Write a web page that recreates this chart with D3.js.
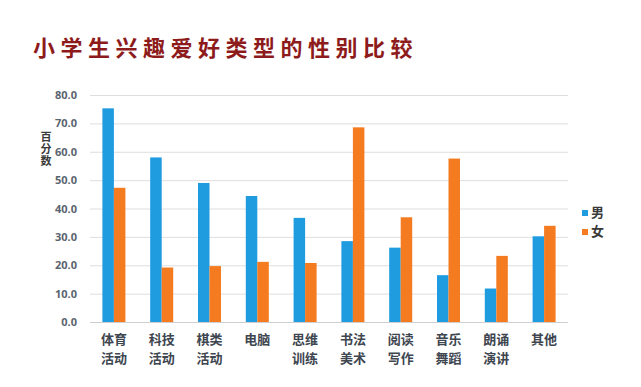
<!DOCTYPE html>
<html>
<head>
<meta charset="utf-8">
<script src="https://cdn.jsdelivr.net/npm/d3@7"></script>
<style>
  body { margin: 0; background: #fff; }
  text { font-family: "Noto Sans CJK SC", "Noto Sans", sans-serif; }
</style>
</head>
<body>
<div id="chart"></div>
<script>
var categories = [['体育', '活动'], ['科技', '活动'], ['棋类', '活动'], ['电脑'], ['思维', '训练'],
  ['书法', '美术'], ['阅读', '写作'], ['音乐', '舞蹈'], ['朗诵', '演讲'], ['其他']]
var boys = [75.3, 58.0, 49.0, 44.4, 36.7, 28.5, 26.2, 16.5, 11.8, 30.2]
var girls = [47.3, 19.2, 19.7, 21.2, 20.8, 68.6, 36.9, 57.6, 23.3, 33.9]
var seriesNames = ['男', '女']
var yTicks = [0, 10, 20, 30, 40, 50, 60, 70, 80]

var width = 641
var height = 387
var margin = { top: 95, left: 90, right: 73, bottom: 65 }

var svg = d3
  .select('#chart')
  .append('svg')
  .attr('width', width)
  .attr('height', height)

var colors = ['#1f9be0', '#f47b20']

// title
svg.append('text')
  .attr('x', 33)
  .attr('y', 56)
  .attr('fill', '#8e1b1b')
  .attr('font-size', 22)
  .attr('font-weight', 'bold')
  .attr('letter-spacing', 5.5)
  .text('小学生兴趣爱好类型的性别比较')

var x = d3.scaleBand()
  .domain(d3.range(categories.length))
  .range([margin.left, width - margin.right])

var y = d3.scaleLinear()
  .domain([0, 80])
  .range([height - margin.bottom, margin.top])

// grid
svg.append('g')
  .selectAll('line')
  .data(yTicks)
  .enter()
  .append('line')
  .attr('x1', margin.left)
  .attr('x2', width - margin.right)
  .attr('y1', d => y(d) + 0.5)
  .attr('y2', d => y(d) + 0.5)
  .attr('stroke', d => d === 0 ? '#cfcfcf' : '#dedede')
  .attr('stroke-width', 1)

// y axis labels
var yAxis = d3.axisLeft(y).tickValues(yTicks).tickFormat(d3.format('.1f')).tickSize(0).tickPadding(13)
var yg = svg.append('g')
  .attr('transform', 'translate(' + margin.left + ',0)')
  .call(yAxis)
yg.select('.domain').remove()
yg.selectAll('text')
  .attr('font-size', 11)
  .attr('font-weight', 'bold')
  .attr('fill', '#5a6470')
  .style('font-family', '"Open Sans", sans-serif')

// y axis title, written vertically
svg.append('text')
  .attr('x', 46)
  .attr('y', 131)
  .style('writing-mode', 'vertical-rl')
  .style('text-orientation', 'upright')
  .attr('letter-spacing', 1)
  .attr('font-size', 11)
  .attr('font-weight', 'bold')
  .attr('fill', '#3a3a3a')
  .text('百分数')

// bars
var barW = 11.5
var series = [boys, girls]
series.forEach(function(vals, s) {
  svg.append('g')
    .selectAll('rect')
    .data(vals)
    .enter()
    .append('rect')
    .attr('x', (d, i) => x(i) + x.bandwidth() / 2 - barW + s * barW)
    .attr('width', barW)
    .attr('y', d => y(d))
    .attr('height', d => y(0) - y(d))
    .attr('fill', colors[s])
})

// category labels
var cg = svg.append('g')
  .selectAll('text')
  .data(categories)
  .enter()
  .append('text')
  .attr('x', (d, i) => x(i) + x.bandwidth() / 2)
  .attr('y', 344)
  .attr('text-anchor', 'middle')
  .attr('font-size', 13)
  .attr('font-weight', 'bold')
  .attr('fill', '#3e4650')
cg.selectAll('tspan')
  .data(d => d)
  .enter()
  .append('tspan')
  .attr('x', function() { return d3.select(this.parentNode).attr('x') })
  .attr('dy', (d, i) => i === 0 ? 0 : 19)
  .text(d => d)

// legend
var leg = svg.append('g')
  .selectAll('g')
  .data(seriesNames)
  .enter()
  .append('g')
  .attr('transform', (d, i) => 'translate(582,' + (210 + i * 19) + ')')
leg.append('rect')
  .attr('width', 6)
  .attr('height', 6)
  .attr('fill', (d, i) => colors[i])
leg.append('text')
  .attr('x', 9)
  .attr('y', 7)
  .attr('font-size', 13)
  .attr('font-weight', 'bold')
  .attr('fill', '#3a3a3a')
  .text(d => d)
</script>
</body>
</html>
